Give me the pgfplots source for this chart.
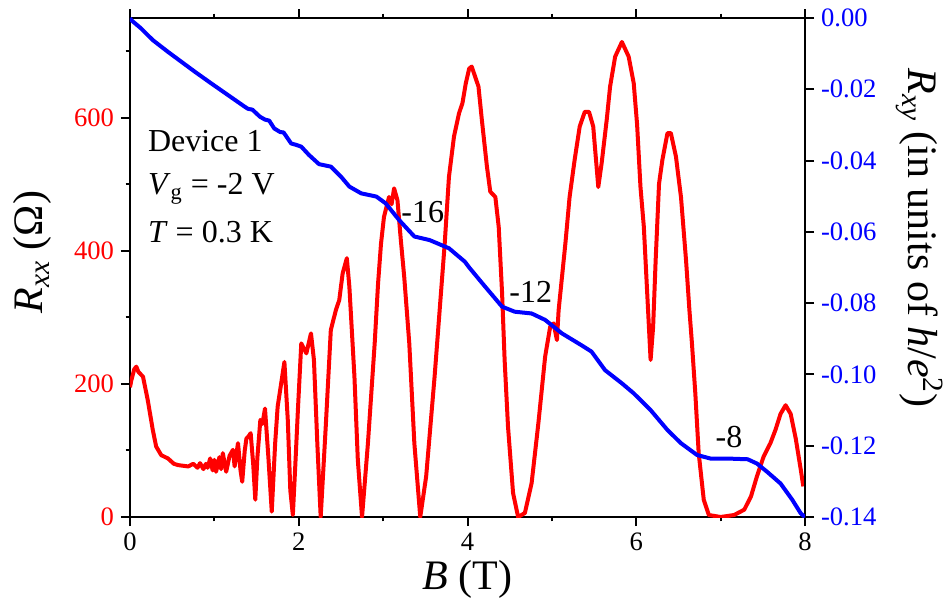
\documentclass[border=0pt]{standalone}
\usepackage{fontspec}
\setmainfont{Liberation Serif}
\usepackage{pgfplots}
\pgfplotsset{compat=1.18}
\definecolor{pred}{RGB}{255,0,0}
\definecolor{pblue}{RGB}{0,0,255}
\begin{document}
\begin{tikzpicture}
\pgfplotsset{
  common/.style={
    scale only axis, width=337.5pt, height=249.5pt,
    at={(0pt,0pt)}, anchor=south west,
    xmin=0, xmax=8,
    tick align=outside,
    major tick length=4.5pt, minor tick length=2.2pt,
    every tick/.style={black, line width=1pt},
    axis line style={line width=1pt, black},
    /pgf/number format/assume math mode=true,
    ticklabel style={font=\fontsize{13.3}{15}\selectfont},
    label style={font=\fontsize{21}{24}\selectfont},
  }
}
\begin{axis}[common,
  ymin=0, ymax=750,
  xtick={0,2,4,6,8}, minor xtick={1,3,5,7},
  xtick pos=both, xticklabel pos=lower,
  ytick={0,200,400,600}, minor ytick={100,300,500,700},
  ytick pos=left,
  yticklabel style={pred},
  xlabel={\textit{B} (T)},
  xlabel style={at={(axis description cs:0.5,-0.126)}, anchor=center},
  ylabel={\textit{R}\textsubscript{\textit{xx}} (Ω)},
  ylabel style={at={(axis description cs:-0.144,0.531)}, anchor=center},
]
\addplot[pred, line width=2pt, line join=round] coordinates {
(0.00,195) (0.015,205) (0.05,222) (0.075,226) (0.10,218) (0.154,211) (0.21,176)
(0.27,131) (0.31,106) (0.37,93) (0.45,88) (0.52,80) (0.57,78) (0.63,77)
(0.69,76) (0.75,80) (0.80,74) (0.83,81) (0.87,72) (0.90,80) (0.92,74)
(0.95,88) (0.98,70) (1.00,86) (1.02,68) (1.06,90) (1.08,72) (1.10,96)
(1.14,68) (1.18,92) (1.22,101) (1.24,76) (1.28,111) (1.31,70) (1.33,53)
(1.36,100) (1.38,118) (1.41,122) (1.43,126) (1.46,80) (1.485,26) (1.51,90)
(1.545,146) (1.57,140) (1.60,163) (1.64,90) (1.68,8) (1.72,110) (1.75,166)
(1.78,191) (1.83,233) (1.87,146) (1.90,40) (1.93,3) (1.96,80) (1.99,161)
(2.03,261) (2.09,246) (2.145,276) (2.18,236) (2.22,111) (2.26,0) (2.32,136)
(2.38,281) (2.44,311) (2.48,326) (2.52,366) (2.57,389) (2.60,346) (2.66,211)
(2.70,86) (2.75,0) (2.82,111) (2.90,261) (2.94,351) (2.975,411) (3.01,451)
(3.07,481) (3.10,470) (3.13,494) (3.17,476) (3.21,416) (3.25,361) (3.31,261)
(3.37,111) (3.44,0) (3.51,61) (3.61,211) (3.67,311) (3.73,411) (3.78,511)
(3.84,572) (3.90,607) (3.94,622) (3.98,652) (4.02,674) (4.05,677) (4.09,662)
(4.13,647) (4.17,597) (4.23,527) (4.27,489) (4.33,481) (4.37,436) (4.41,336)
(4.44,236) (4.48,136) (4.54,36) (4.60,0) (4.68,6) (4.76,51) (4.84,141)
(4.92,241) (4.98,286) (5.02,291) (5.06,266) (5.08,311) (5.12,361) (5.16,411)
(5.21,481) (5.27,537) (5.33,587) (5.39,609) (5.44,609) (5.49,587) (5.55,496)
(5.59,532) (5.65,597) (5.69,647) (5.75,692) (5.83,714) (5.91,692) (5.97,652)
(6.01,590) (6.05,496) (6.09,436) (6.13,336) (6.17,236) (6.20,286) (6.23,386)
(6.27,501) (6.31,537) (6.37,577) (6.41,577) (6.47,542) (6.53,481) (6.59,386)
(6.63,311) (6.66,261) (6.70,186) (6.74,96) (6.80,26) (6.86,3) (7.00,0)
(7.16,3) (7.28,11) (7.36,31) (7.43,61) (7.51,91) (7.59,111) (7.65,131)
(7.71,155) (7.77,168) (7.83,155) (7.89,118) (7.95,71) (7.98,46)
};
\node[anchor=base west, font=\fontsize{16}{19}\selectfont] at (axis cs:0.13,549) {Device 1};
\node[anchor=base west, font=\fontsize{16}{19}\selectfont] at (axis cs:0.13,485) {\textit{V}\textsubscript{g} = -2 V};
\node[anchor=base west, font=\fontsize{16}{19}\selectfont] at (axis cs:0.13,412) {\textit{T} = 0.3 K};
\node[anchor=base, font=\fontsize{16}{19}\selectfont] at (axis cs:3.47,443) {-16};
\node[anchor=base, font=\fontsize{16}{19}\selectfont] at (axis cs:4.75,323) {-12};
\node[anchor=base, font=\fontsize{16}{19}\selectfont] at (axis cs:7.10,104) {-8};
\end{axis}
\begin{axis}[common,
  ymin=-0.14, ymax=0,
  axis x line=none, axis y line*=right,
  ytick={-0.14,-0.12,-0.10,-0.08,-0.06,-0.04,-0.02,0},
  yticklabel style={pblue, /pgf/number format/fixed, /pgf/number format/fixed zerofill, /pgf/number format/precision=2},
  ylabel={\textit{R}\textsubscript{\textit{xy}} (in units of \textit{h}/\textit{e}\textsuperscript{2})},
  ylabel style={at={(axis description cs:1.170,0.559)}, anchor=center, rotate=180},
]
\addplot[pblue, line width=2pt, line join=round] coordinates {
(0.00,0.0000) (0.015,-0.0006) (0.13,-0.0029) (0.27,-0.0062) (0.45,-0.0095)
(0.61,-0.0123) (0.77,-0.0151) (0.96,-0.0183) (1.16,-0.0216) (1.36,-0.0249)
(1.40,-0.0255) (1.45,-0.0257) (1.54,-0.0277) (1.60,-0.0285) (1.65,-0.0288)
(1.71,-0.0310) (1.78,-0.0320) (1.82,-0.0321) (1.91,-0.0352) (1.97,-0.0356)
(2.03,-0.0361) (2.12,-0.0384) (2.24,-0.0410) (2.38,-0.0417) (2.50,-0.0445)
(2.60,-0.0473) (2.74,-0.0492) (2.92,-0.0501) (3.03,-0.0520) (3.19,-0.0567)
(3.37,-0.0613) (3.55,-0.0623) (3.78,-0.0646) (3.97,-0.0684) (4.02,-0.0700)
(4.21,-0.0754) (4.41,-0.0810) (4.56,-0.0824) (4.76,-0.0829) (4.92,-0.0847)
(5.12,-0.0885) (5.35,-0.0918) (5.47,-0.0936) (5.63,-0.0988) (5.83,-0.1025)
(5.97,-0.1053) (6.17,-0.1100) (6.37,-0.1156) (6.53,-0.1193) (6.72,-0.1226)
(6.88,-0.1236) (7.08,-0.1236) (7.32,-0.1238) (7.43,-0.1250) (7.55,-0.1273)
(7.71,-0.1306) (7.85,-0.1352) (7.95,-0.1390) (8.00,-0.1400)
};
\end{axis}
\pgfresetboundingbox
\useasboundingbox (-65pt,-44.5pt) rectangle (408.5pt,258.5pt);
\end{tikzpicture}
\end{document}
